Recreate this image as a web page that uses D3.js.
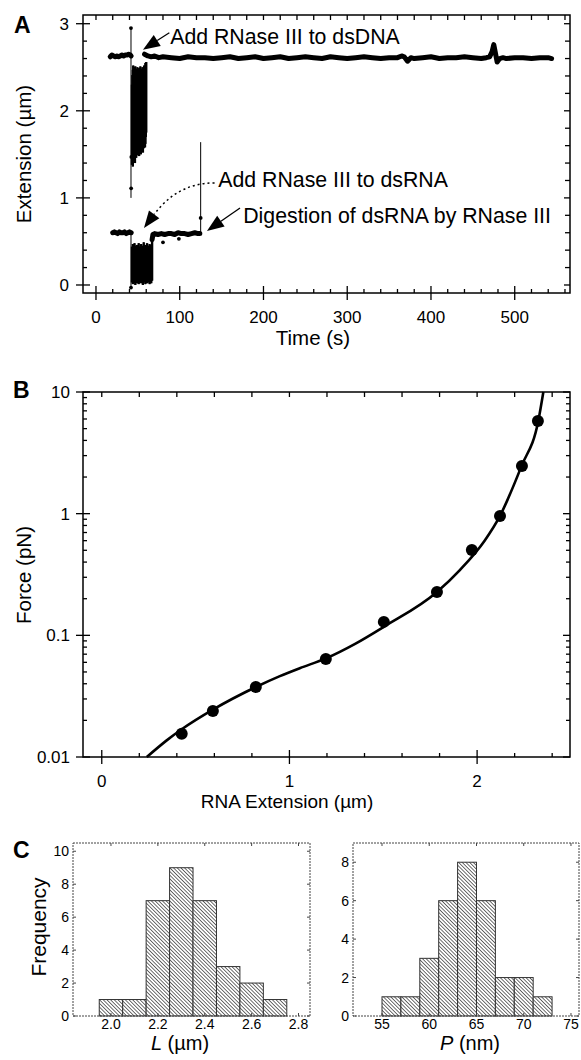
<!DOCTYPE html>
<html><head><meta charset="utf-8">
<script src="https://cdn.jsdelivr.net/npm/d3@7/dist/d3.min.js"></script>
<style>
body{margin:0;background:#fff;}
svg{display:block;}
text{font-family:"Liberation Sans",Arial,Helvetica,sans-serif;fill:#000;}
</style></head><body>
<svg id="chart" width="581" height="1060"></svg>
<script>
// ================= DATA =================
// ---- Panel A: extension vs time ----
const timeTicks = [0,100,200,300,400,500];
const timeTickLabels = ["0","100","200","300","400","500"];
const extTicks = [0,1,2,3];
const extTickLabels = ["0","1","2","3"];

const dnaPreT = [17,19,21,23,25,27,29,31,33,35,37,39,41,42];
const dnaPreV = [2.62,2.64,2.63,2.62,2.63,2.62,2.63,2.64,2.63,2.64,2.64,2.65,2.64,2.63];
const dnaBandT = [43,43.5,44,44.5,45,45.5,46,46.5,47,47.5,48,48.5,49,49.5,50,50.5,51,51.5,52,52.5,53,53.5,54,54.5,55,55.5,56,56.5,57,57.5,58,58.5,59,59.5,60];
const dnaBandHi = [2.30,2.41,2.47,2.52,2.44,2.50,2.38,2.46,2.51,2.42,2.48,2.36,2.45,2.50,2.40,2.47,2.33,2.49,2.43,2.38,2.51,2.46,2.35,2.48,2.42,2.50,2.39,2.47,2.44,2.52,2.41,2.49,2.55,2.50,2.56];
const dnaBandLo = [1.38,1.45,1.36,1.50,1.42,1.55,1.47,1.40,1.52,1.58,1.46,1.53,1.60,1.49,1.56,1.51,1.62,1.48,1.57,1.54,1.61,1.50,1.58,1.63,1.55,1.59,1.52,1.64,1.57,1.60,1.66,1.58,1.62,1.70,1.75];
const dnaPostT = [58,62,66,70,75,80,90,100,110,120,130,140,150,160,170,180,190,200,210,220,230,240,250,260,270,280,290,300,310,320,330,340,350,360,365,368,372,376,380,390,400,410,420,430,440,450,460,466,470,473,475,477,479,482,486,490,500,510,520,530,540,544];
const dnaPostV = [2.65,2.63,2.62,2.63,2.61,2.62,2.61,2.60,2.62,2.61,2.61,2.60,2.61,2.62,2.60,2.61,2.62,2.60,2.61,2.62,2.60,2.61,2.62,2.61,2.60,2.62,2.61,2.60,2.61,2.62,2.61,2.60,2.61,2.61,2.63,2.62,2.57,2.61,2.60,2.61,2.62,2.60,2.61,2.61,2.62,2.61,2.60,2.61,2.62,2.68,2.76,2.66,2.56,2.60,2.61,2.60,2.61,2.61,2.60,2.61,2.61,2.60];

const rnaPreT = [20,22,24,26,28,30,32,34,36,38,40,42];
const rnaPreV = [0.60,0.61,0.60,0.59,0.61,0.60,0.60,0.61,0.59,0.60,0.61,0.60];
const rnaBandT = [43,44,45,46,47,48,49,50,51,52,53,54,55,56,57,58,59,60,61,62,63,64,65,66,67];
const rnaBandHi = [0.44,0.47,0.42,0.48,0.45,0.40,0.46,0.43,0.48,0.44,0.41,0.47,0.45,0.43,0.49,0.42,0.46,0.44,0.48,0.41,0.45,0.47,0.43,0.46,0.50];
const rnaBandLo = [0.03,0.01,0.05,0.02,0.00,0.04,0.02,0.06,0.01,0.03,0.05,0.02,0.04,0.00,0.03,0.05,0.01,0.04,0.02,0.06,0.03,0.01,0.04,0.02,0.05];
const rnaPostT = [67,68,70,74,78,82,86,90,94,98,102,106,110,114,118,122,124];
const rnaPostV = [0.52,0.58,0.59,0.58,0.59,0.58,0.59,0.59,0.58,0.60,0.59,0.59,0.58,0.59,0.60,0.59,0.59];

const thinT = [41.8, 41.8, 125];
const thinV0 = [2.95, 0.60, 0.58];
const thinV1 = [1.00, -0.03, 1.64];
const dotT = [41.8, 42.0, 42.2, 41.8, 80, 99, 125];
const dotV = [2.95, 1.11, 1.47, -0.03, 0.49, 0.53, 0.77];

const annText = ["Add RNase III to dsDNA", "Add RNase III to dsRNA", "Digestion of dsRNA by RNase III"];
const annTextT = [88.6, 146.0, 175.8];
const annTextV = [2.770, 1.126, 0.713];
const annTipT = [56.1, 57.3, 132.5];
const annTipV = [2.701, 0.655, 0.621];
const annTailT = [87.6, 141.6, 172.0];
const annTailV = [2.897, 1.172, 0.885];
const annDotted = [false, true, false];

// ---- Panel B: force-extension ----
const rnaExtTicks = [0,1,2];
const rnaExtTickLabels = ["0","1","2"];
const forceTicks = [0.01,0.1,1,10];
const forceTickLabels = ["0.01","0.1","1","10"];
const rnaExt = [0.426,0.592,0.821,1.194,1.503,1.786,1.972,2.122,2.239,2.324];
const force  = [0.0155,0.0239,0.0376,0.0638,0.129,0.227,0.502,0.957,2.47,5.78];
const fitExt = [0.24,0.346,0.426,0.592,0.821,0.949,1.055,1.194,1.35,1.503,1.786,1.908,2.04,2.122,2.237,2.326,2.353];
const fitForce = [0.0100,0.0137,0.0169,0.0245,0.0376,0.0462,0.0537,0.0646,0.0851,0.1175,0.227,0.344,0.60,0.96,2.47,5.78,10];

// ---- Panel C: histograms ----
const lBinStart = [1.95,2.05,2.15,2.25,2.35,2.45,2.55,2.65];
const lBinEnd   = [2.05,2.15,2.25,2.35,2.45,2.55,2.65,2.75];
const lCounts   = [1,1,7,9,7,3,2,1];
const lTicks = [2.0,2.2,2.4,2.6,2.8];
const lTickLabels = ["2.0","2.2","2.4","2.6","2.8"];
const lFreqTicks = [0,2,4,6,8,10];
const lFreqLabels = ["0","2","4","6","8","10"];

const pBinStart = [55,57,59,61,63,65,67,69,71];
const pBinEnd   = [57,59,61,63,65,67,69,71,73];
const pCounts   = [1,1,3,6,8,6,2,2,1];
const pTicks = [55,60,65,70,75];
const pTickLabels = ["55","60","65","70","75"];
const pFreqTicks = [0,2,4,6,8];
const pFreqLabels = ["0","2","4","6","8"];

// ================= DRAW =================
const svg = d3.select('#chart');
const FONT_TICK = 17, FONT_TITLE = 20.5;

function box(g, x, y, o) {
  const [xl, xr] = x.range(), [yb, yt] = y.range();
  g.append('rect').attr('x',xl).attr('y',yt).attr('width',xr-xl).attr('height',yb-yt)
    .attr('fill','none').attr('stroke',o.stroke||'#000').attr('stroke-width',o.sw||1.5)
    .attr('stroke-dasharray',o.dash||null);
  const T = [];
  o.xMaj.forEach(v=>{T.push([x(v),yb-o.inMaj,x(v),yb+o.outMaj]); if(o.topLen) T.push([x(v),yt,x(v),yt+o.topLen]);});
  o.xMin.forEach(v=>{T.push([x(v),yb-o.inMin,x(v),yb]); if(o.topLen) T.push([x(v),yt,x(v),yt+o.topLen]);});
  o.yMaj.forEach(v=>{T.push([xl-o.outMaj,y(v),xl+o.inMaj,y(v)]); if(o.rMaj) T.push([xr-o.rMaj,y(v),xr,y(v)]);});
  o.yMin.forEach(v=>{T.push([xl,y(v),xl+o.inMin,y(v)]); if(o.rMin) T.push([xr-o.rMin,y(v),xr,y(v)]);});
  g.append('g').selectAll('line').data(T).join('line')
    .attr('x1',d=>d[0]).attr('y1',d=>d[1]).attr('x2',d=>d[2]).attr('y2',d=>d[3])
    .attr('stroke',o.stroke||'#000').attr('stroke-width',o.tsw||1.3);
  g.append('g').selectAll('text').data(o.xMaj).join('text')
    .attr('x',d=>x(d)).attr('y',yb+o.xlab).attr('text-anchor','middle')
    .attr('font-size',o.fs).text((d,i)=>o.xText[i]);
  g.append('g').selectAll('text').data(o.yMaj).join('text')
    .attr('x',xl-o.ylab).attr('y',d=>y(d)).attr('dy','0.36em').attr('text-anchor','end')
    .attr('font-size',o.fs).text((d,i)=>o.yText[i]);
}
const notIn = (arr, v) => !arr.some(a => Math.abs(a - v) < 1e-6);

// ---------- Panel A ----------
const gA = svg.append('g');
const xA = d3.scaleLinear().domain([-15.5, 566]).range([83, 570]);
const yA = d3.scaleLinear().domain([-0.092, 3.1]).range([293, 15]);
box(gA, xA, yA, {
  xMaj: timeTicks, xMin: d3.range(20, 566, 20).filter(v=>notIn(timeTicks,v)),
  yMaj: extTicks, yMin: d3.range(0.2, 3.05, 0.2).map(v=>+v.toFixed(1)).filter(v=>notIn(extTicks,v)),
  inMaj:7, outMaj:7, inMin:4, topLen:5, rMaj:6, rMin:5,
  xlab:30, ylab:14, fs:FONT_TICK, xText:timeTickLabels, yText:extTickLabels
});
const lineA = d3.line().x(d=>xA(d[0])).y(d=>yA(d[1]));
const pairs = (T,V) => T.map((t,i)=>[t,V[i]]);
function trace(T,V,w){
  gA.append('path').datum(pairs(T,V)).attr('d',lineA).attr('fill','none')
    .attr('stroke','#000').attr('stroke-width',w).attr('stroke-linejoin','round').attr('stroke-linecap','round');
}
gA.append('g').selectAll('line').data(thinT).join('line')
  .attr('x1',d=>xA(d)).attr('x2',d=>xA(d))
  .attr('y1',(d,i)=>yA(thinV0[i])).attr('y2',(d,i)=>yA(thinV1[i]))
  .attr('stroke','#000').attr('stroke-width',1);
trace(dnaPreT, dnaPreV, 5);
trace(dnaPostT, dnaPostV, 5);
trace(rnaPreT, rnaPreV, 5);
trace(rnaPostT, rnaPostV, 5);
function band(T,Lo,Hi){
  gA.append('g').selectAll('line').data(T).join('line')
    .attr('x1',d=>xA(d)).attr('x2',d=>xA(d))
    .attr('y1',(d,i)=>yA(Lo[i])).attr('y2',(d,i)=>yA(Hi[i]))
    .attr('stroke','#000').attr('stroke-width',2.4);
  const zz = [];
  T.forEach((t,i)=>{ zz.push([t,Hi[i]]); zz.push([t,Lo[i]]); });
  gA.append('path').datum(zz).attr('d',lineA).attr('fill','none').attr('stroke','#000').attr('stroke-width',1.2);
}
band(dnaBandT, dnaBandLo, dnaBandHi);
band(rnaBandT, rnaBandLo, rnaBandHi);
gA.append('g').selectAll('circle').data(dotT).join('circle')
  .attr('cx',d=>xA(d)).attr('cy',(d,i)=>yA(dotV[i])).attr('r',1.9).attr('fill','#000');

annText.forEach((txt,i)=>{
  const tip=[xA(annTipT[i]),yA(annTipV[i])], tail=[xA(annTailT[i]),yA(annTailV[i])];
  let dir;
  if(annDotted[i]) dir=[-0.6,0.8];
  else { const dx=tip[0]-tail[0], dy=tip[1]-tail[1], L=Math.hypot(dx,dy); dir=[dx/L,dy/L]; }
  const hl=17, hw=6.5;
  const base=[tip[0]-hl*dir[0], tip[1]-hl*dir[1]];
  const nrm=[-dir[1],dir[0]];
  const pts=[tip,[base[0]+hw*nrm[0],base[1]+hw*nrm[1]],[base[0]-hw*nrm[0],base[1]-hw*nrm[1]]];
  if(annDotted[i]){
    gA.append('path').attr('d',`M${tail[0]},${tail[1]}C${tail[0]-30},${tail[1]} ${base[0]+12},${base[1]-16} ${base[0]},${base[1]}`)
      .attr('fill','none').attr('stroke','#000').attr('stroke-width',1.5).attr('stroke-dasharray','2,3');
  } else {
    gA.append('line').attr('x1',tail[0]).attr('y1',tail[1]).attr('x2',base[0]).attr('y2',base[1])
      .attr('stroke','#000').attr('stroke-width',1.3);
  }
  gA.append('path').attr('d','M'+pts.map(p=>p.join(',')).join('L')+'Z').attr('fill','#000');
  gA.append('text').attr('x',xA(annTextT[i])).attr('y',yA(annTextV[i])).attr('font-size',21.3).text(txt);
});
gA.append('text').attr('x',313).attr('y',345).attr('text-anchor','middle').attr('font-size',FONT_TITLE).text('Time (s)');
gA.append('text').attr('transform','translate(31,154) rotate(-90)').attr('text-anchor','middle').attr('font-size',FONT_TITLE).text('Extension (\u00b5m)');
svg.append('text').attr('x',14).attr('y',33).attr('font-size',23).attr('font-weight','bold').text('A');

// ---------- Panel B ----------
const gB = svg.append('g');
const xB = d3.scaleLinear().domain([-0.1, 2.495]).range([83, 570]);
const yB = d3.scaleLog().domain([0.01, 10]).range([757, 392]);
const logMinor = [];
[0.01,0.1,1].forEach(dec=>{ for(let k=2;k<=9;k++) logMinor.push(+(k*dec).toPrecision(3)); });
box(gB, xB, yB, {
  xMaj: rnaExtTicks, xMin: d3.range(0.2, 2.45, 0.2).map(v=>+v.toFixed(1)).filter(v=>notIn(rnaExtTicks,v)),
  yMaj: forceTicks, yMin: logMinor,
  inMaj:7, outMaj:7, inMin:4, topLen:5, rMaj:7, rMin:4,
  xlab:30, ylab:13, fs:FONT_TICK, xText:rnaExtTickLabels, yText:forceTickLabels
});
const lineB = d3.line().x(d=>xB(d[0])).y(d=>yB(d[1])).curve(d3.curveMonotoneX);
gB.append('path').datum(pairs(fitExt, fitForce)).attr('d',lineB).attr('fill','none')
  .attr('stroke','#000').attr('stroke-width',2.6);
gB.append('g').selectAll('circle').data(rnaExt).join('circle')
  .attr('cx',d=>xB(d)).attr('cy',(d,i)=>yB(force[i])).attr('r',6).attr('fill','#000');
gB.append('text').attr('x',287).attr('y',808).attr('text-anchor','middle').attr('font-size',19).text('RNA Extension (\u00b5m)');
gB.append('text').attr('transform','translate(31,575) rotate(-90)').attr('text-anchor','middle').attr('font-size',FONT_TITLE).text('Force (pN)');
svg.append('text').attr('x',13).attr('y',398).attr('font-size',23).attr('font-weight','bold').text('B');

// ---------- Panel C ----------
const defs = svg.append('defs');
const pat = defs.append('pattern').attr('id','hatch').attr('patternUnits','userSpaceOnUse')
  .attr('width',2.6).attr('height',2.6).attr('patternTransform','rotate(-45)');
pat.append('rect').attr('width',2.6).attr('height',2.6).attr('fill','#fff');
pat.append('line').attr('x1',0).attr('y1',0).attr('x2',0).attr('y2',2.6).attr('stroke','#222').attr('stroke-width',1.3);

function hist(x, y, starts, ends, counts, o){
  const g = svg.append('g');
  const [xl, xr] = x.range(), [yb, yt] = y.range();
  g.append('g').selectAll('rect').data(counts).join('rect')
    .attr('x',(d,i)=>x(starts[i])).attr('width',(d,i)=>x(ends[i])-x(starts[i]))
    .attr('y',d=>y(d)).attr('height',d=>yb-y(d))
    .attr('fill','url(#hatch)').attr('stroke','#333').attr('stroke-width',1);
  box(g, x, y, {
    xMaj:o.xt, xMin:[], yMaj:o.yt, yMin:[],
    inMaj:3, outMaj:0, inMin:0, topLen:3, rMaj:3, rMin:0,
    xlab:13, ylab:4, fs:14, xText:o.xtl, yText:o.ytl,
    stroke:'#444', sw:1, tsw:1, dash:'2,1'
  });
  return g;
}
const xL = d3.scaleLinear().domain([1.838, 2.849]).range([73, 310]);
const yL = d3.scaleLinear().domain([0, 10.5]).range([1016, 843]);
hist(xL, yL, lBinStart, lBinEnd, lCounts, {xt:lTicks, xtl:lTickLabels, yt:lFreqTicks, ytl:lFreqLabels});
const xP = d3.scaleLinear().domain([51.93, 75.85]).range([353, 579]);
const yP = d3.scaleLinear().domain([0, 9]).range([1016, 843]);
hist(xP, yP, pBinStart, pBinEnd, pCounts, {xt:pTicks, xtl:pTickLabels, yt:pFreqTicks, ytl:pFreqLabels});

const tL = svg.append('text').attr('x',180).attr('y',1050).attr('text-anchor','middle').attr('font-size',20);
tL.append('tspan').attr('font-style','italic').text('L');
tL.append('tspan').text(' (\u00b5m)');
const tP = svg.append('text').attr('x',470).attr('y',1050).attr('text-anchor','middle').attr('font-size',20);
tP.append('tspan').attr('font-style','italic').text('P');
tP.append('tspan').text(' (nm)');
svg.append('text').attr('transform','translate(46,927) rotate(-90)').attr('text-anchor','middle').attr('font-size',21).text('Frequency');
svg.append('text').attr('x',13).attr('y',858).attr('font-size',23).attr('font-weight','bold').text('C');
</script>
</body></html>
